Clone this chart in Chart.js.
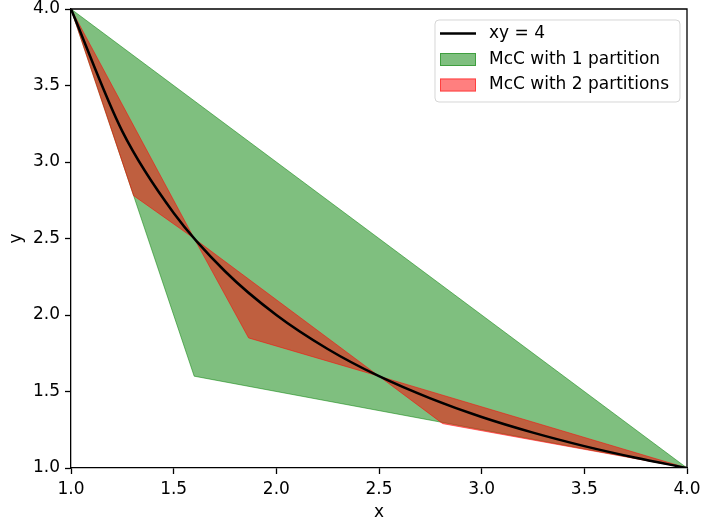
<!DOCTYPE html>
<html>
<head>
<meta charset="utf-8">
<script src="https://cdn.jsdelivr.net/npm/chart.js@4.4.1/dist/chart.umd.min.js"></script>
<style>
  body { margin: 0; background: #fff; }
  #wrap { width: 702px; height: 525px; }
</style>
</head>
<body>
<div id="wrap"><canvas id="mcc" width="702" height="525"></canvas></div>
<script>
// curve xy = 4
var curveX = [1, 1.25, 1.5, 1.75, 2, 2.25, 2.5, 2.75, 3, 3.25, 3.5, 3.75, 4];
var curveY = [4, 3.2, 2.667, 2.286, 2, 1.778, 1.6, 1.455, 1.333, 1.231, 1.143, 1.067, 1];

// McC with 1 partition (closed polygon)
var oneX = [1, 1.6, 4, 1];
var oneY = [4, 1.6, 1, 4];

// McC with 2 partitions (lower edge out, upper edge back)
var twoX = [1, 1.305, 1.6, 1.865, 2.5, 2.81, 4, 2.5, 1.6, 1];
var twoY = [4, 2.78, 2.5, 1.85, 1.6, 1.29, 1, 1.6, 2.5, 4];

var ticks = [1.0, 1.5, 2.0, 2.5, 3.0, 3.5, 4.0];
var labels = ["xy = 4", "McC with 1 partition", "McC with 2 partitions"];

function pts(xs, ys) {
    return xs.map(function (x, i) { return {x: x, y: ys[i]}; });
}

var FONT = "'DejaVu Sans', sans-serif";
var fsize = 17;

// matplotlib style legend box in the upper right
var legendBox = {
    id: 'legendBox',
    afterDraw: function (chart) {
        var ctx = chart.ctx;
        var a = chart.chartArea;
        var w = 245, h = 82;
        var x = a.right - 7 - w, y = a.top + 11;
        ctx.save();
        ctx.beginPath();
        ctx.roundRect(x, y, w, h, 4);
        ctx.fillStyle = 'rgba(255,255,255,0.8)';
        ctx.fill();
        ctx.strokeStyle = 'rgba(204,204,204,0.8)';
        ctx.lineWidth = 1;
        ctx.stroke();
        var rows = [13.5, 39.5, 65];
        var ds = chart.data.datasets;
        ctx.font = fsize + 'px ' + FONT;
        ctx.textBaseline = 'middle';
        for (var i = 0; i < 3; i++) {
            var cy = y + rows[i];
            if (i == 0) {
                ctx.beginPath();
                ctx.moveTo(x + 5, cy);
                ctx.lineTo(x + 41, cy);
                ctx.strokeStyle = ds[0].borderColor;
                ctx.lineWidth = 2.5;
                ctx.stroke();
            } else {
                ctx.fillStyle = ds[i].backgroundColor;
                ctx.fillRect(x + 5, cy - 6.5, 36, 13);
                ctx.strokeStyle = ds[i].borderColor;
                ctx.lineWidth = 1;
                ctx.strokeRect(x + 5.5, cy - 6, 35, 12);
            }
            ctx.fillStyle = '#000';
            ctx.fillText(labels[i], x + 54, cy);
        }
        ctx.restore();
    }
};

// top and right spines
var frame = {
    id: 'frame',
    afterDatasetsDraw: function (chart) {
        var ctx = chart.ctx, a = chart.chartArea;
        ctx.save();
        ctx.strokeStyle = '#000';
        ctx.lineWidth = 1.3;
        ctx.beginPath();
        ctx.moveTo(a.left, a.top);
        ctx.lineTo(a.right, a.top);
        ctx.lineTo(a.right, a.bottom);
        ctx.stroke();
        ctx.restore();
    }
};

function noPad(scale) {
    scale.paddingTop = 0;
    scale.paddingBottom = 0;
    scale.paddingLeft = 0;
    scale.paddingRight = 0;
}

var axisCommon = {
    type: 'linear',
    min: 1,
    max: 4,
    afterBuildTicks: function (scale) {
        scale.ticks = ticks.map(function (v) { return {value: v}; });
    },
    ticks: {
        color: '#000',
        font: {family: FONT, size: fsize},
        padding: 5,
        maxRotation: 0,
        autoSkip: false,
        callback: function (v) { return Number(v).toFixed(1); }
    },
    grid: {
        drawOnChartArea: false,
        tickLength: 6,
        tickWidth: 1.3,
        tickColor: '#000'
    },
    border: {display: true, color: '#000', width: 1.3}
};

var ctx = document.getElementById('mcc');
var mccChart = new Chart(ctx, {
    type: 'line',
    data: {
        datasets: [{
            label: labels[0],
            data: pts(curveX, curveY),
            borderColor: '#000',
            borderWidth: 2.5,
            pointRadius: 0,
            cubicInterpolationMode: 'monotone',
            fill: false,
            order: 0
        }, {
            label: labels[1],
            data: pts(oneX, oneY),
            borderColor: 'rgba(0,128,0,0.5)',
            backgroundColor: 'rgba(0,128,0,0.5)',
            borderWidth: 1,
            pointRadius: 0,
            tension: 0,
            fill: 'shape',
            order: 2
        }, {
            label: labels[2],
            data: pts(twoX, twoY),
            borderColor: 'rgba(255,0,0,0.5)',
            backgroundColor: 'rgba(255,0,0,0.5)',
            borderWidth: 1,
            pointRadius: 0,
            tension: 0,
            fill: 'shape',
            order: 1
        }]
    },
    options: {
        responsive: false,
        animation: false,
        devicePixelRatio: 1,
        layout: {padding: {top: 9, right: 15, left: 0, bottom: 0}},
        plugins: {
            legend: {display: false},
            tooltip: {enabled: false}
        },
        scales: {
            x: Object.assign({}, axisCommon, {
                position: 'bottom',
                title: {display: true, text: 'x', color: '#000',
                        font: {family: FONT, size: fsize}, padding: {top: 0, bottom: 2}},
                afterFit: function (scale) { scale.height = 57; noPad(scale); }
            }),
            y: Object.assign({}, axisCommon, {
                position: 'left',
                title: {display: true, text: 'y', color: '#000',
                        font: {family: FONT, size: fsize}, padding: {top: 6, bottom: 0}},
                afterFit: function (scale) { scale.width = 71; noPad(scale); }
            })
        }
    },
    plugins: [frame, legendBox]
});
</script>
</body>
</html>
